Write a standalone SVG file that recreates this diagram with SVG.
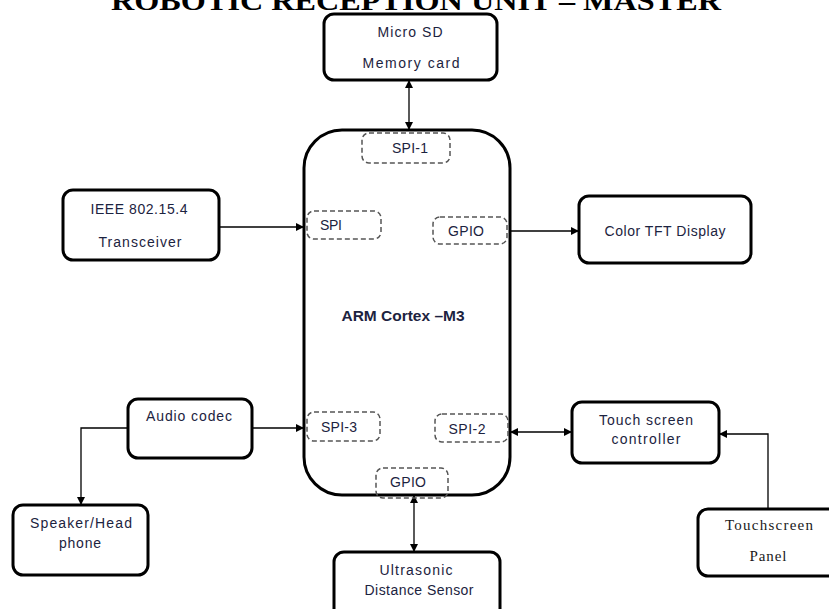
<svg xmlns="http://www.w3.org/2000/svg" width="829" height="609" viewBox="0 0 829 609">
<style>
  .box { fill: #fff; stroke: #000; stroke-width: 3; }
  .port { fill: none; stroke: #555; stroke-width: 1.5; stroke-dasharray: 5 3; }
  .t { font-family: "Liberation Sans", Arial, sans-serif; font-size: 14px; fill: #1c2340; text-anchor: middle; }
  .b { font-weight: bold; }
  .s { font-family: "Liberation Serif", "Times New Roman", serif; font-size: 15px; fill: #1a1a1a; text-anchor: middle; }
  .title { font-family: "Liberation Serif", "Times New Roman", serif; font-size: 28px; font-weight: bold; fill: #000; text-anchor: middle; }
  .c { fill: none; stroke: #000; stroke-width: 1.3; }
</style>
<defs>
  <marker id="ah" viewBox="0 0 10 10" refX="10" refY="5" markerWidth="9" markerHeight="8" markerUnits="userSpaceOnUse" orient="auto-start-reverse">
    <path d="M0,0 L10,5 L0,10 Z" fill="#000"/>
  </marker>
</defs>
<rect width="829" height="609" fill="#fff"/>
<text class="title" x="416" y="10" textLength="610" lengthAdjust="spacingAndGlyphs">ROBOTIC RECEPTION UNIT – MASTER</text>

<g id="connectors">
  <line class="c" x1="409" y1="80" x2="409" y2="130" marker-start="url(#ah)" marker-end="url(#ah)"/>
  <line class="c" x1="219" y1="227" x2="304" y2="227" marker-end="url(#ah)"/>
  <line class="c" x1="510" y1="231" x2="579" y2="231" marker-end="url(#ah)"/>
  <line class="c" x1="252" y1="428" x2="304" y2="428" marker-end="url(#ah)"/>
  <polyline class="c" points="128,428 81,428 81,505" marker-end="url(#ah)"/>
  <line class="c" x1="510" y1="432" x2="572" y2="432" marker-start="url(#ah)" marker-end="url(#ah)"/>
  <polyline class="c" points="768,508 768,434 719,434" marker-end="url(#ah)"/>
  <line class="c" x1="414" y1="495" x2="414" y2="552" marker-start="url(#ah)" marker-end="url(#ah)"/>
</g>

<g id="mcu">
  <rect class="box" x="304" y="130" width="206" height="365" rx="38"/>
  <text class="t b" x="403" y="321" textLength="123" lengthAdjust="spacingAndGlyphs">ARM Cortex –M3</text>
</g>
<g id="port-spi1">
  <rect class="port" x="362" y="133" width="88" height="30" rx="7"/>
  <text class="t" x="410" y="153" textLength="36">SPI-1</text>
</g>
<g id="port-spi">
  <rect class="port" x="307" y="211" width="74" height="28" rx="7"/>
  <text class="t" x="331" y="230" textLength="22">SPI</text>
</g>
<g id="port-gpio1">
  <rect class="port" x="433" y="217" width="74" height="27" rx="7"/>
  <text class="t" x="466" y="236" textLength="36">GPIO</text>
</g>
<g id="port-spi3">
  <rect class="port" x="307" y="412" width="73" height="29" rx="7"/>
  <text class="t" x="339" y="432" textLength="36">SPI-3</text>
</g>
<g id="port-spi2">
  <rect class="port" x="435" y="414" width="73" height="28" rx="7"/>
  <text class="t" x="467" y="434" textLength="37">SPI-2</text>
</g>
<g id="port-gpio2">
  <rect class="port" x="376" y="468" width="72" height="30" rx="7"/>
  <text class="t" x="408" y="487" textLength="36">GPIO</text>
</g>

<g id="microsd">
  <rect class="box" x="324" y="14" width="173" height="66" rx="10"/>
  <text class="t" x="410" y="37" textLength="65">Micro SD</text>
  <text class="t" x="411" y="68" textLength="97">Memory card</text>
</g>
<g id="ieee">
  <rect class="box" x="63" y="190" width="156" height="70" rx="10"/>
  <text class="t" x="139" y="214" textLength="97">IEEE 802.15.4</text>
  <text class="t" x="140" y="247" textLength="83">Transceiver</text>
</g>
<g id="tft">
  <rect class="box" x="579" y="196" width="172" height="67" rx="10"/>
  <text class="t" x="665" y="236" textLength="121">Color TFT Display</text>
</g>
<g id="audio">
  <rect class="box" x="128" y="399" width="124" height="59" rx="10"/>
  <text class="t" x="189" y="421" textLength="86">Audio codec</text>
</g>
<g id="speaker">
  <rect class="box" x="13" y="505" width="135" height="70" rx="10"/>
  <text class="t" x="81" y="528" textLength="102">Speaker/Head</text>
  <text class="t" x="80" y="548" textLength="42">phone</text>
</g>
<g id="touchctrl">
  <rect class="box" x="572" y="402" width="147" height="61" rx="10"/>
  <text class="t" x="646" y="425" textLength="94">Touch screen</text>
  <text class="t" x="646" y="444" textLength="69">controller</text>
</g>
<g id="touchpanel">
  <rect class="box" x="698" y="509" width="150" height="67" rx="10"/>
  <text class="s" x="769" y="530" textLength="88">Touchscreen</text>
  <text class="s" x="768" y="561" textLength="37">Panel</text>
</g>
<g id="ultrasonic">
  <rect class="box" x="334" y="552" width="166" height="70" rx="10"/>
  <text class="t" x="416" y="575" textLength="73">Ultrasonic</text>
  <text class="t" x="419" y="595" textLength="109">Distance Sensor</text>
</g>
</svg>
